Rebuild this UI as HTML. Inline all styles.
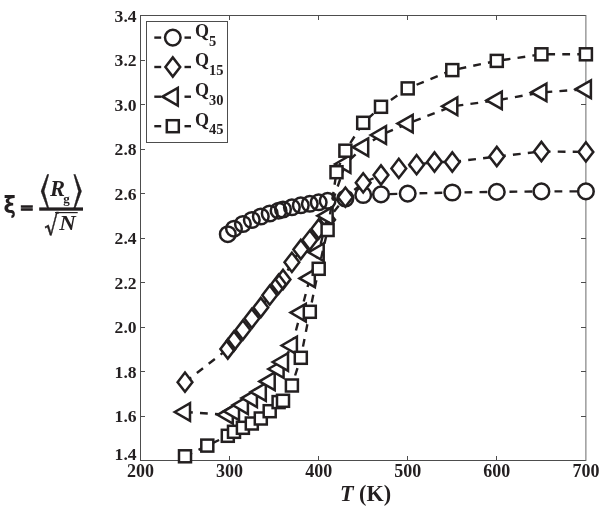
<!DOCTYPE html>
<html><head><meta charset="utf-8"><title>Rg vs T</title>
<style>html,body{margin:0;padding:0;background:#fff}svg{display:block}text{font-family:"Liberation Serif","DejaVu Serif",serif;font-weight:bold;fill:#231f20}.m{fill:#fff;stroke:#231f20;stroke-width:2.5;stroke-linejoin:miter}.f .m{stroke:none}.e .m{fill:none}.l{fill:none;stroke:#231f20;stroke-width:2.4;stroke-dasharray:7.7 7.15}</style></head><body>
<svg width="602" height="511" viewBox="0 0 602 511">
<rect width="602" height="511" fill="#fff"/>
<g stroke="#4d4d4d" stroke-width="1" fill="none" shape-rendering="crispEdges">
<path d="M585.90 15.5H140.5V460.5H585.90"/>
<line x1="585.90" y1="15.0" x2="585.90" y2="461.0" stroke="#6a6a6a" shape-rendering="geometricPrecision"/>
<line x1="229.6" y1="460.5" x2="229.6" y2="456.0"/>
<line x1="229.6" y1="15.5" x2="229.6" y2="20.0"/>
<line x1="318.7" y1="460.5" x2="318.7" y2="456.0"/>
<line x1="318.7" y1="15.5" x2="318.7" y2="20.0"/>
<line x1="407.7" y1="460.5" x2="407.7" y2="456.0"/>
<line x1="407.7" y1="15.5" x2="407.7" y2="20.0"/>
<line x1="496.8" y1="460.5" x2="496.8" y2="456.0"/>
<line x1="496.8" y1="15.5" x2="496.8" y2="20.0"/>
<line x1="140.5" y1="416.0" x2="145.0" y2="416.0"/>
<line x1="585.9" y1="416.0" x2="581.4" y2="416.0"/>
<line x1="140.5" y1="371.5" x2="145.0" y2="371.5"/>
<line x1="585.9" y1="371.5" x2="581.4" y2="371.5"/>
<line x1="140.5" y1="327.0" x2="145.0" y2="327.0"/>
<line x1="585.9" y1="327.0" x2="581.4" y2="327.0"/>
<line x1="140.5" y1="282.5" x2="145.0" y2="282.5"/>
<line x1="585.9" y1="282.5" x2="581.4" y2="282.5"/>
<line x1="140.5" y1="238.0" x2="145.0" y2="238.0"/>
<line x1="585.9" y1="238.0" x2="581.4" y2="238.0"/>
<line x1="140.5" y1="193.5" x2="145.0" y2="193.5"/>
<line x1="585.9" y1="193.5" x2="581.4" y2="193.5"/>
<line x1="140.5" y1="149.0" x2="145.0" y2="149.0"/>
<line x1="585.9" y1="149.0" x2="581.4" y2="149.0"/>
<line x1="140.5" y1="104.5" x2="145.0" y2="104.5"/>
<line x1="585.9" y1="104.5" x2="581.4" y2="104.5"/>
<line x1="140.5" y1="60.0" x2="145.0" y2="60.0"/>
<line x1="585.9" y1="60.0" x2="581.4" y2="60.0"/>
</g>
<g style="font-size:18px">
<text x="140.5" y="476.6" text-anchor="middle">200</text>
<text x="229.6" y="476.6" text-anchor="middle">300</text>
<text x="318.7" y="476.6" text-anchor="middle">400</text>
<text x="407.7" y="476.6" text-anchor="middle">500</text>
<text x="496.8" y="476.6" text-anchor="middle">600</text>
<text x="585.9" y="476.6" text-anchor="middle">700</text>
<text x="136.6" y="460.2" text-anchor="end" style="font-size:17.6px">1.4</text>
<text x="136.6" y="422.1" text-anchor="end" style="font-size:17.6px">1.6</text>
<text x="136.6" y="377.6" text-anchor="end" style="font-size:17.6px">1.8</text>
<text x="136.6" y="333.1" text-anchor="end" style="font-size:17.6px">2.0</text>
<text x="136.6" y="288.6" text-anchor="end" style="font-size:17.6px">2.2</text>
<text x="136.6" y="244.1" text-anchor="end" style="font-size:17.6px">2.4</text>
<text x="136.6" y="199.6" text-anchor="end" style="font-size:17.6px">2.6</text>
<text x="136.6" y="155.1" text-anchor="end" style="font-size:17.6px">2.8</text>
<text x="136.6" y="110.6" text-anchor="end" style="font-size:17.6px">3.0</text>
<text x="136.6" y="66.1" text-anchor="end" style="font-size:17.6px">3.2</text>
<text x="136.6" y="21.6" text-anchor="end" style="font-size:17.6px">3.4</text>
</g>
<text x="365.5" y="501.2" style="font-size:22.2px" text-anchor="middle"><tspan font-style="italic">T</tspan> (K)</text>
<polyline class="l" style="stroke-dasharray:7.80 7.20;stroke-dashoffset:11.06" points="227.8,234.2 234.0,228.7 242.9,224.0 251.8,220.0 260.8,216.5 269.7,213.5 278.6,210.7 283.0,209.5 291.9,207.3 300.8,205.3 309.8,203.8 318.7,202.3 327.6,200.8 345.4,198.5 363.2,195.0 381.0,194.4 407.7,193.6 452.3,192.5 496.8,191.9 541.4,191.4 585.9,191.4"/>
<g class="f">
<circle class="m" cx="227.8" cy="234.2" r="7.8"/>
<circle class="m" cx="234.0" cy="228.7" r="7.8"/>
<circle class="m" cx="242.9" cy="224.0" r="7.8"/>
<circle class="m" cx="251.8" cy="220.0" r="7.8"/>
<circle class="m" cx="260.8" cy="216.5" r="7.8"/>
<circle class="m" cx="269.7" cy="213.5" r="7.8"/>
<circle class="m" cx="278.6" cy="210.7" r="7.8"/>
<circle class="m" cx="283.0" cy="209.5" r="7.8"/>
<circle class="m" cx="291.9" cy="207.3" r="7.8"/>
<circle class="m" cx="300.8" cy="205.3" r="7.8"/>
<circle class="m" cx="309.8" cy="203.8" r="7.8"/>
<circle class="m" cx="318.7" cy="202.3" r="7.8"/>
<circle class="m" cx="327.6" cy="200.8" r="7.8"/>
<circle class="m" cx="345.4" cy="198.5" r="7.8"/>
<circle class="m" cx="363.2" cy="195.0" r="7.8"/>
<circle class="m" cx="381.0" cy="194.4" r="7.8"/>
<circle class="m" cx="407.7" cy="193.6" r="7.8"/>
<circle class="m" cx="452.3" cy="192.5" r="7.8"/>
<circle class="m" cx="496.8" cy="191.9" r="7.8"/>
<circle class="m" cx="541.4" cy="191.4" r="7.8"/>
<circle class="m" cx="585.9" cy="191.4" r="7.8"/>
</g><g class="e">
<circle class="m" cx="227.8" cy="234.2" r="7.8"/>
<circle class="m" cx="234.0" cy="228.7" r="7.8"/>
<circle class="m" cx="242.9" cy="224.0" r="7.8"/>
<circle class="m" cx="251.8" cy="220.0" r="7.8"/>
<circle class="m" cx="260.8" cy="216.5" r="7.8"/>
<circle class="m" cx="269.7" cy="213.5" r="7.8"/>
<circle class="m" cx="278.6" cy="210.7" r="7.8"/>
<circle class="m" cx="283.0" cy="209.5" r="7.8"/>
<circle class="m" cx="291.9" cy="207.3" r="7.8"/>
<circle class="m" cx="300.8" cy="205.3" r="7.8"/>
<circle class="m" cx="309.8" cy="203.8" r="7.8"/>
<circle class="m" cx="318.7" cy="202.3" r="7.8"/>
<circle class="m" cx="327.6" cy="200.8" r="7.8"/>
<circle class="m" cx="345.4" cy="198.5" r="7.8"/>
<circle class="m" cx="363.2" cy="195.0" r="7.8"/>
<circle class="m" cx="381.0" cy="194.4" r="7.8"/>
<circle class="m" cx="407.7" cy="193.6" r="7.8"/>
<circle class="m" cx="452.3" cy="192.5" r="7.8"/>
<circle class="m" cx="496.8" cy="191.9" r="7.8"/>
<circle class="m" cx="541.4" cy="191.4" r="7.8"/>
<circle class="m" cx="585.9" cy="191.4" r="7.8"/>
</g>
<polyline class="l" style="stroke-dasharray:7.80 7.20" points="185.0,382.2 227.8,349.0"/>
<polyline class="l" style="stroke-dasharray:7.80 7.20;stroke-dashoffset:6.01" points="227.8,349.0 234.0,341.0 242.9,330.0 251.8,318.5 260.8,307.5 269.7,295.2 278.6,284.2 283.0,279.5 291.9,262.3 300.8,249.5 309.8,240.1 318.7,229.0 327.6,219.8 345.4,197.2 363.2,182.8 381.0,175.0 398.8,168.4 416.6,164.7 434.5,162.0 452.3,162.0 496.8,156.5 541.4,151.5 585.9,151.9"/>
<g class="f">
<path class="m" d="M177.6 382.2L185.0 372.6L192.4 382.2L185.0 391.8Z"/>
<path class="m" d="M220.4 349.0L227.8 339.4L235.2 349.0L227.8 358.6Z"/>
<path class="m" d="M226.6 341.0L234.0 331.4L241.4 341.0L234.0 350.6Z"/>
<path class="m" d="M235.5 330.0L242.9 320.4L250.3 330.0L242.9 339.6Z"/>
<path class="m" d="M244.4 318.5L251.8 308.9L259.2 318.5L251.8 328.1Z"/>
<path class="m" d="M253.4 307.5L260.8 297.9L268.2 307.5L260.8 317.1Z"/>
<path class="m" d="M262.3 295.2L269.7 285.6L277.1 295.2L269.7 304.8Z"/>
<path class="m" d="M271.2 284.2L278.6 274.6L286.0 284.2L278.6 293.8Z"/>
<path class="m" d="M275.6 279.5L283.0 269.9L290.4 279.5L283.0 289.1Z"/>
<path class="m" d="M284.5 262.3L291.9 252.7L299.3 262.3L291.9 271.9Z"/>
<path class="m" d="M293.4 249.5L300.8 239.9L308.2 249.5L300.8 259.1Z"/>
<path class="m" d="M302.4 240.1L309.8 230.5L317.2 240.1L309.8 249.7Z"/>
<path class="m" d="M311.3 229.0L318.7 219.4L326.1 229.0L318.7 238.6Z"/>
<path class="m" d="M320.2 219.8L327.6 210.2L335.0 219.8L327.6 229.4Z"/>
<path class="m" d="M338.0 197.2L345.4 187.6L352.8 197.2L345.4 206.8Z"/>
<path class="m" d="M355.8 182.8L363.2 173.2L370.6 182.8L363.2 192.4Z"/>
<path class="m" d="M373.6 175.0L381.0 165.4L388.4 175.0L381.0 184.6Z"/>
<path class="m" d="M391.4 168.4L398.8 158.8L406.2 168.4L398.8 178.0Z"/>
<path class="m" d="M409.2 164.7L416.6 155.1L424.0 164.7L416.6 174.3Z"/>
<path class="m" d="M427.1 162.0L434.5 152.4L441.9 162.0L434.5 171.6Z"/>
<path class="m" d="M444.9 162.0L452.3 152.4L459.7 162.0L452.3 171.6Z"/>
<path class="m" d="M489.4 156.5L496.8 146.9L504.2 156.5L496.8 166.1Z"/>
<path class="m" d="M534.0 151.5L541.4 141.9L548.8 151.5L541.4 161.1Z"/>
<path class="m" d="M578.5 151.9L585.9 142.3L593.3 151.9L585.9 161.5Z"/>
</g><g class="e">
<path class="m" d="M177.6 382.2L185.0 372.6L192.4 382.2L185.0 391.8Z"/>
<path class="m" d="M220.4 349.0L227.8 339.4L235.2 349.0L227.8 358.6Z"/>
<path class="m" d="M226.6 341.0L234.0 331.4L241.4 341.0L234.0 350.6Z"/>
<path class="m" d="M235.5 330.0L242.9 320.4L250.3 330.0L242.9 339.6Z"/>
<path class="m" d="M244.4 318.5L251.8 308.9L259.2 318.5L251.8 328.1Z"/>
<path class="m" d="M253.4 307.5L260.8 297.9L268.2 307.5L260.8 317.1Z"/>
<path class="m" d="M262.3 295.2L269.7 285.6L277.1 295.2L269.7 304.8Z"/>
<path class="m" d="M271.2 284.2L278.6 274.6L286.0 284.2L278.6 293.8Z"/>
<path class="m" d="M275.6 279.5L283.0 269.9L290.4 279.5L283.0 289.1Z"/>
<path class="m" d="M284.5 262.3L291.9 252.7L299.3 262.3L291.9 271.9Z"/>
<path class="m" d="M293.4 249.5L300.8 239.9L308.2 249.5L300.8 259.1Z"/>
<path class="m" d="M302.4 240.1L309.8 230.5L317.2 240.1L309.8 249.7Z"/>
<path class="m" d="M311.3 229.0L318.7 219.4L326.1 229.0L318.7 238.6Z"/>
<path class="m" d="M320.2 219.8L327.6 210.2L335.0 219.8L327.6 229.4Z"/>
<path class="m" d="M338.0 197.2L345.4 187.6L352.8 197.2L345.4 206.8Z"/>
<path class="m" d="M355.8 182.8L363.2 173.2L370.6 182.8L363.2 192.4Z"/>
<path class="m" d="M373.6 175.0L381.0 165.4L388.4 175.0L381.0 184.6Z"/>
<path class="m" d="M391.4 168.4L398.8 158.8L406.2 168.4L398.8 178.0Z"/>
<path class="m" d="M409.2 164.7L416.6 155.1L424.0 164.7L416.6 174.3Z"/>
<path class="m" d="M427.1 162.0L434.5 152.4L441.9 162.0L434.5 171.6Z"/>
<path class="m" d="M444.9 162.0L452.3 152.4L459.7 162.0L452.3 171.6Z"/>
<path class="m" d="M489.4 156.5L496.8 146.9L504.2 156.5L496.8 166.1Z"/>
<path class="m" d="M534.0 151.5L541.4 141.9L548.8 151.5L541.4 161.1Z"/>
<path class="m" d="M578.5 151.9L585.9 142.3L593.3 151.9L585.9 161.5Z"/>
</g>
<polyline class="l" style="stroke-dasharray:7.80 7.20" points="185.0,412.0 227.8,414.8"/>
<polyline class="l" style="stroke-dasharray:7.80 7.20;stroke-dashoffset:8.14" points="227.8,414.8 234.0,411.3 242.9,405.1 251.8,398.1 260.8,392.0 269.7,381.4 278.6,369.0 283.0,362.0 291.9,345.5 300.8,312.6 309.8,278.4 318.7,252.3 327.6,215.8 345.4,164.0 363.2,147.2 381.0,135.0 407.7,123.6 452.3,106.3 496.8,100.4 541.4,92.4 585.9,89.2"/>
<path class="m" d="M174.7 412.0L190.0 403.1L190.0 420.9Z"/>
<path class="m" d="M217.5 414.8L232.8 405.9L232.8 423.7Z"/>
<path class="m" d="M223.7 411.3L239.0 402.4L239.0 420.2Z"/>
<path class="m" d="M232.6 405.1L247.9 396.2L247.9 414.0Z"/>
<path class="m" d="M241.5 398.1L256.9 389.2L256.9 407.0Z"/>
<path class="m" d="M250.5 392.0L265.8 383.1L265.8 400.9Z"/>
<path class="m" d="M259.4 381.4L274.7 372.5L274.7 390.2Z"/>
<path class="m" d="M268.3 369.0L283.6 360.1L283.6 377.9Z"/>
<path class="m" d="M272.7 362.0L288.0 353.1L288.0 370.9Z"/>
<path class="m" d="M281.6 345.5L296.9 336.6L296.9 354.4Z"/>
<path class="m" d="M290.5 312.6L305.8 303.8L305.8 321.5Z"/>
<path class="m" d="M299.5 278.4L314.8 269.5L314.8 287.2Z"/>
<path class="m" d="M308.4 252.3L323.7 243.5L323.7 261.2Z"/>
<path class="m" d="M317.3 215.8L332.6 207.0L332.6 224.7Z"/>
<path class="m" d="M335.1 164.0L350.4 155.2L350.4 172.8Z"/>
<path class="m" d="M352.9 147.2L368.2 138.3L368.2 156.0Z"/>
<path class="m" d="M370.7 135.0L386.0 126.2L386.0 143.8Z"/>
<path class="m" d="M397.4 123.6L412.7 114.8L412.7 132.4Z"/>
<path class="m" d="M442.0 106.3L457.3 97.5L457.3 115.1Z"/>
<path class="m" d="M486.5 100.4L501.8 91.6L501.8 109.2Z"/>
<path class="m" d="M531.1 92.4L546.4 83.6L546.4 101.2Z"/>
<path class="m" d="M575.6 89.2L590.9 80.4L590.9 98.0Z"/>
<polyline class="l" style="stroke-dasharray:7.80 7.20" points="185.0,456.3 207.3,445.6 227.8,435.8"/>
<polyline class="l" style="stroke-dasharray:7.80 7.20;stroke-dashoffset:10.66" points="227.8,435.8 234.0,431.8 242.9,427.8 251.8,423.5 260.8,418.5 269.7,411.2 278.6,402.1 283.0,400.8 291.9,385.5 300.8,357.8 309.8,311.8 318.7,268.8 327.6,230.0 336.5,172.2 345.4,150.7 363.2,122.8 381.0,106.8 407.7,88.4 452.3,70.1 496.8,60.9 541.4,54.3 585.9,54.3"/>
<rect class="m" x="179.0" y="450.3" width="12.0" height="12.0"/>
<rect class="m" x="201.3" y="439.6" width="12.0" height="12.0"/>
<rect class="m" x="221.8" y="429.8" width="12.0" height="12.0"/>
<rect class="m" x="228.0" y="425.8" width="12.0" height="12.0"/>
<rect class="m" x="236.9" y="421.8" width="12.0" height="12.0"/>
<rect class="m" x="245.8" y="417.5" width="12.0" height="12.0"/>
<rect class="m" x="254.8" y="412.5" width="12.0" height="12.0"/>
<rect class="m" x="263.7" y="405.2" width="12.0" height="12.0"/>
<rect class="m" x="272.6" y="396.1" width="12.0" height="12.0"/>
<rect class="m" x="277.0" y="394.8" width="12.0" height="12.0"/>
<rect class="m" x="285.9" y="379.5" width="12.0" height="12.0"/>
<rect class="m" x="294.8" y="351.8" width="12.0" height="12.0"/>
<rect class="m" x="303.8" y="305.8" width="12.0" height="12.0"/>
<rect class="m" x="312.7" y="262.8" width="12.0" height="12.0"/>
<rect class="m" x="321.6" y="224.0" width="12.0" height="12.0"/>
<rect class="m" x="330.5" y="166.2" width="12.0" height="12.0"/>
<rect class="m" x="339.4" y="144.7" width="12.0" height="12.0"/>
<rect class="m" x="357.2" y="116.8" width="12.0" height="12.0"/>
<rect class="m" x="375.0" y="100.8" width="12.0" height="12.0"/>
<rect class="m" x="401.7" y="82.4" width="12.0" height="12.0"/>
<rect class="m" x="446.3" y="64.1" width="12.0" height="12.0"/>
<rect class="m" x="490.8" y="54.9" width="12.0" height="12.0"/>
<rect class="m" x="535.4" y="48.3" width="12.0" height="12.0"/>
<rect class="m" x="579.9" y="48.3" width="12.0" height="12.0"/>
<rect x="146.5" y="21.5" width="81" height="120.5" fill="#fff" stroke="#4d4d4d" stroke-width="1" shape-rendering="crispEdges"/>
<line x1="154.3" y1="37.6" x2="161.2" y2="37.6" stroke="#231f20" stroke-width="2.4"/>
<line x1="184.5" y1="37.6" x2="191" y2="37.6" stroke="#231f20" stroke-width="2.4"/>
<circle class="m" cx="172.8" cy="37.6" r="7.8"/>
<text x="195.0" y="37.0" style="font-size:18px">Q<tspan style="font-size:14.5px" dy="8.7">5</tspan></text>
<line x1="154.3" y1="67.0" x2="161.2" y2="67.0" stroke="#231f20" stroke-width="2.4"/>
<line x1="184.5" y1="67.0" x2="191" y2="67.0" stroke="#231f20" stroke-width="2.4"/>
<path class="m" d="M165.4 67.0L172.8 57.4L180.2 67.0L172.8 76.6Z"/>
<text x="195.0" y="66.4" style="font-size:18px">Q<tspan style="font-size:14.5px" dy="8.7">15</tspan></text>
<line x1="154.3" y1="96.7" x2="161.2" y2="96.7" stroke="#231f20" stroke-width="2.4"/>
<line x1="184.5" y1="96.7" x2="191" y2="96.7" stroke="#231f20" stroke-width="2.4"/>
<path class="m" d="M162.5 96.7L177.8 87.9L177.8 105.5Z"/>
<text x="195.0" y="96.1" style="font-size:18px">Q<tspan style="font-size:14.5px" dy="8.7">30</tspan></text>
<line x1="154.3" y1="126.2" x2="161.2" y2="126.2" stroke="#231f20" stroke-width="2.4"/>
<line x1="184.5" y1="126.2" x2="191" y2="126.2" stroke="#231f20" stroke-width="2.4"/>
<rect class="m" x="166.8" y="120.2" width="12.0" height="12.0"/>
<text x="195.0" y="125.6" style="font-size:18px">Q<tspan style="font-size:14.5px" dy="8.7">45</tspan></text>
<g>
<text transform="translate(3.55,213.4) scale(0.93,1)" style="font-family:'DejaVu Sans',sans-serif;font-weight:bold;font-size:22.6px">ξ</text>
<text transform="translate(19.83,212.1) scale(0.96,0.72)" style="font-family:'DejaVu Sans',sans-serif;font-weight:bold;font-size:17.6px;stroke:#231f20;stroke-width:1.5px">=</text>
<rect x="39.2" y="207.4" width="43.8" height="3.3" fill="#231f20"/>
<text x="50.0" y="196.2" style="font-size:22.5px;font-style:italic">R</text>
<text x="63.3" y="202.7" style="font-size:13px">g</text>
<text transform="translate(59.2,230.4) scale(1.05,1)" style="font-size:21.8px;font-style:italic">N</text>
<text transform="translate(38.68,201.78) scale(0.70,1)" style="font-family:'DejaVu Math TeX Gyre','DejaVu Sans',sans-serif;font-weight:normal;font-size:39.6px;stroke:#231f20;stroke-width:0.4px">⟨</text>
<text transform="translate(72.13,201.78) scale(0.70,1)" style="font-family:'DejaVu Math TeX Gyre','DejaVu Sans',sans-serif;font-weight:normal;font-size:39.6px;stroke:#231f20;stroke-width:0.4px">⟩</text>
<text transform="translate(43.20,233.44) scale(0.80,1)" style="font-family:'DejaVu Math TeX Gyre','DejaVu Sans',sans-serif;font-weight:normal;font-size:26.5px;stroke:#231f20;stroke-width:0.5px">√</text>
<rect x="55.0" y="212.0" width="22.7" height="1.2" fill="#231f20"/>
</g>
</svg></body></html>
